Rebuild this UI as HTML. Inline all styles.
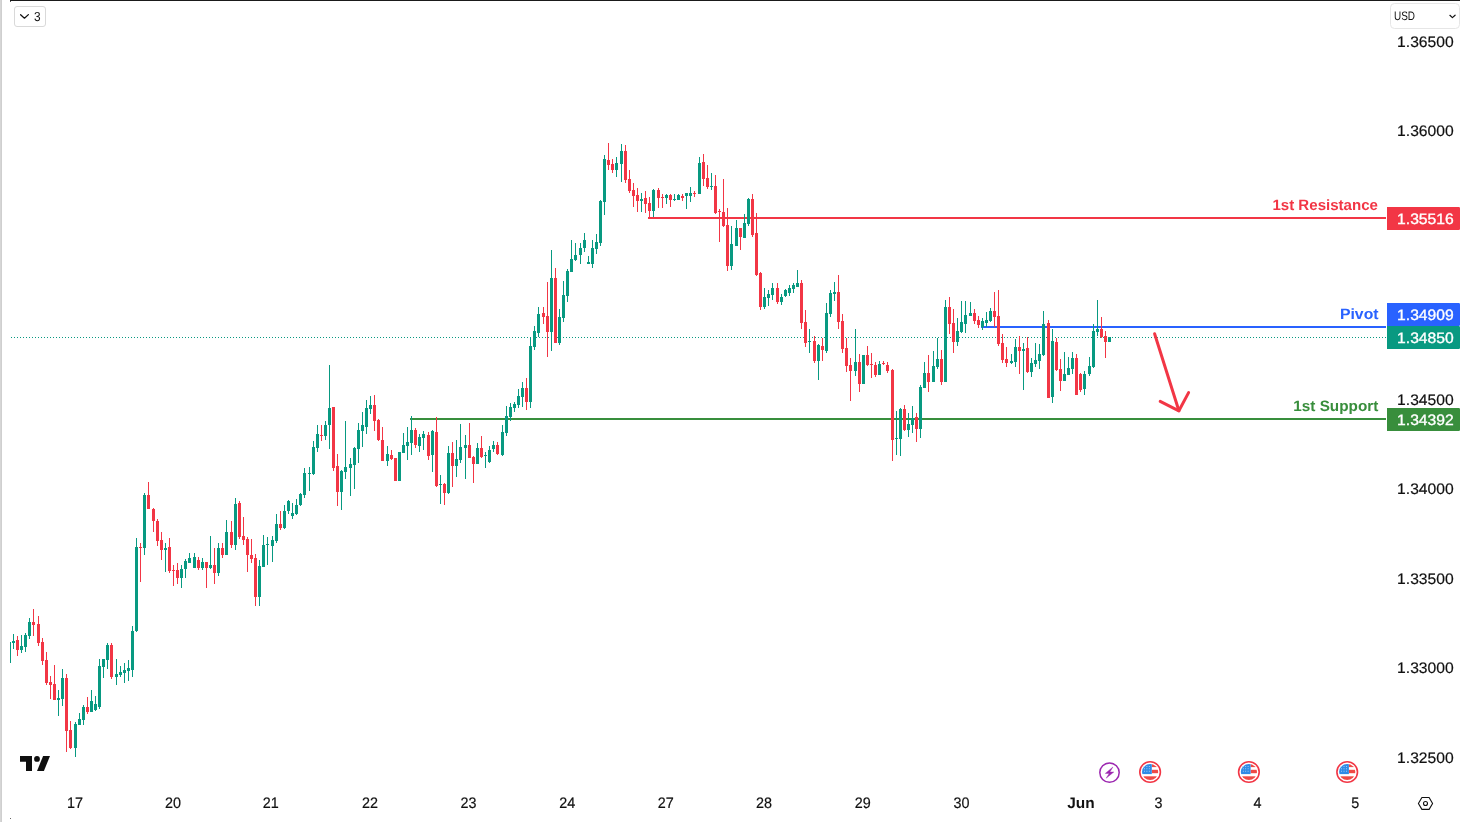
<!DOCTYPE html>
<html lang="en"><head><meta charset="utf-8"><title>Chart</title>
<style>html,body{margin:0;padding:0;background:#fff;}body{width:1460px;height:822px;overflow:hidden;}svg{display:block;}text{font-family:"Liberation Sans",sans-serif;text-rendering:geometricPrecision;}</style></head><body>
<svg width="1460" height="822" viewBox="0 0 1460 822">
<rect x="0" y="0" width="1460" height="822" fill="#ffffff"/>
<g shape-rendering="crispEdges">
<rect x="0" y="0" width="1" height="822" fill="#d6d6d6"/><rect x="1" y="0" width="1" height="822" fill="#cfcfcf"/>
<rect x="10" y="0" width="1450" height="1" fill="#1a1a1a"/>
<rect x="10" y="1" width="1" height="1" fill="#555"/>
<rect x="10" y="818" width="1" height="1" fill="#666"/>
</g>
<g shape-rendering="crispEdges" fill="#089981">
<rect x="11" y="337" width="1" height="1"/><rect x="14" y="337" width="1" height="1"/><rect x="17" y="337" width="1" height="1"/><rect x="20" y="337" width="1" height="1"/><rect x="23" y="337" width="1" height="1"/><rect x="26" y="337" width="1" height="1"/><rect x="29" y="337" width="1" height="1"/><rect x="32" y="337" width="1" height="1"/><rect x="35" y="337" width="1" height="1"/><rect x="38" y="337" width="1" height="1"/><rect x="41" y="337" width="1" height="1"/><rect x="44" y="337" width="1" height="1"/><rect x="47" y="337" width="1" height="1"/><rect x="50" y="337" width="1" height="1"/><rect x="53" y="337" width="1" height="1"/><rect x="56" y="337" width="1" height="1"/><rect x="59" y="337" width="1" height="1"/><rect x="62" y="337" width="1" height="1"/><rect x="65" y="337" width="1" height="1"/><rect x="68" y="337" width="1" height="1"/><rect x="71" y="337" width="1" height="1"/><rect x="74" y="337" width="1" height="1"/><rect x="77" y="337" width="1" height="1"/><rect x="80" y="337" width="1" height="1"/><rect x="83" y="337" width="1" height="1"/><rect x="86" y="337" width="1" height="1"/><rect x="89" y="337" width="1" height="1"/><rect x="92" y="337" width="1" height="1"/><rect x="95" y="337" width="1" height="1"/><rect x="98" y="337" width="1" height="1"/><rect x="101" y="337" width="1" height="1"/><rect x="104" y="337" width="1" height="1"/><rect x="107" y="337" width="1" height="1"/><rect x="110" y="337" width="1" height="1"/><rect x="113" y="337" width="1" height="1"/><rect x="116" y="337" width="1" height="1"/><rect x="119" y="337" width="1" height="1"/><rect x="122" y="337" width="1" height="1"/><rect x="125" y="337" width="1" height="1"/><rect x="128" y="337" width="1" height="1"/><rect x="131" y="337" width="1" height="1"/><rect x="134" y="337" width="1" height="1"/><rect x="137" y="337" width="1" height="1"/><rect x="140" y="337" width="1" height="1"/><rect x="143" y="337" width="1" height="1"/><rect x="146" y="337" width="1" height="1"/><rect x="149" y="337" width="1" height="1"/><rect x="152" y="337" width="1" height="1"/><rect x="155" y="337" width="1" height="1"/><rect x="158" y="337" width="1" height="1"/><rect x="161" y="337" width="1" height="1"/><rect x="164" y="337" width="1" height="1"/><rect x="167" y="337" width="1" height="1"/><rect x="170" y="337" width="1" height="1"/><rect x="173" y="337" width="1" height="1"/><rect x="176" y="337" width="1" height="1"/><rect x="179" y="337" width="1" height="1"/><rect x="182" y="337" width="1" height="1"/><rect x="185" y="337" width="1" height="1"/><rect x="188" y="337" width="1" height="1"/><rect x="191" y="337" width="1" height="1"/><rect x="194" y="337" width="1" height="1"/><rect x="197" y="337" width="1" height="1"/><rect x="200" y="337" width="1" height="1"/><rect x="203" y="337" width="1" height="1"/><rect x="206" y="337" width="1" height="1"/><rect x="209" y="337" width="1" height="1"/><rect x="212" y="337" width="1" height="1"/><rect x="215" y="337" width="1" height="1"/><rect x="218" y="337" width="1" height="1"/><rect x="221" y="337" width="1" height="1"/><rect x="224" y="337" width="1" height="1"/><rect x="227" y="337" width="1" height="1"/><rect x="230" y="337" width="1" height="1"/><rect x="233" y="337" width="1" height="1"/><rect x="236" y="337" width="1" height="1"/><rect x="239" y="337" width="1" height="1"/><rect x="242" y="337" width="1" height="1"/><rect x="245" y="337" width="1" height="1"/><rect x="248" y="337" width="1" height="1"/><rect x="251" y="337" width="1" height="1"/><rect x="254" y="337" width="1" height="1"/><rect x="257" y="337" width="1" height="1"/><rect x="260" y="337" width="1" height="1"/><rect x="263" y="337" width="1" height="1"/><rect x="266" y="337" width="1" height="1"/><rect x="269" y="337" width="1" height="1"/><rect x="272" y="337" width="1" height="1"/><rect x="275" y="337" width="1" height="1"/><rect x="278" y="337" width="1" height="1"/><rect x="281" y="337" width="1" height="1"/><rect x="284" y="337" width="1" height="1"/><rect x="287" y="337" width="1" height="1"/><rect x="290" y="337" width="1" height="1"/><rect x="293" y="337" width="1" height="1"/><rect x="296" y="337" width="1" height="1"/><rect x="299" y="337" width="1" height="1"/><rect x="302" y="337" width="1" height="1"/><rect x="305" y="337" width="1" height="1"/><rect x="308" y="337" width="1" height="1"/><rect x="311" y="337" width="1" height="1"/><rect x="314" y="337" width="1" height="1"/><rect x="317" y="337" width="1" height="1"/><rect x="320" y="337" width="1" height="1"/><rect x="323" y="337" width="1" height="1"/><rect x="326" y="337" width="1" height="1"/><rect x="329" y="337" width="1" height="1"/><rect x="332" y="337" width="1" height="1"/><rect x="335" y="337" width="1" height="1"/><rect x="338" y="337" width="1" height="1"/><rect x="341" y="337" width="1" height="1"/><rect x="344" y="337" width="1" height="1"/><rect x="347" y="337" width="1" height="1"/><rect x="350" y="337" width="1" height="1"/><rect x="353" y="337" width="1" height="1"/><rect x="356" y="337" width="1" height="1"/><rect x="359" y="337" width="1" height="1"/><rect x="362" y="337" width="1" height="1"/><rect x="365" y="337" width="1" height="1"/><rect x="368" y="337" width="1" height="1"/><rect x="371" y="337" width="1" height="1"/><rect x="374" y="337" width="1" height="1"/><rect x="377" y="337" width="1" height="1"/><rect x="380" y="337" width="1" height="1"/><rect x="383" y="337" width="1" height="1"/><rect x="386" y="337" width="1" height="1"/><rect x="389" y="337" width="1" height="1"/><rect x="392" y="337" width="1" height="1"/><rect x="395" y="337" width="1" height="1"/><rect x="398" y="337" width="1" height="1"/><rect x="401" y="337" width="1" height="1"/><rect x="404" y="337" width="1" height="1"/><rect x="407" y="337" width="1" height="1"/><rect x="410" y="337" width="1" height="1"/><rect x="413" y="337" width="1" height="1"/><rect x="416" y="337" width="1" height="1"/><rect x="419" y="337" width="1" height="1"/><rect x="422" y="337" width="1" height="1"/><rect x="425" y="337" width="1" height="1"/><rect x="428" y="337" width="1" height="1"/><rect x="431" y="337" width="1" height="1"/><rect x="434" y="337" width="1" height="1"/><rect x="437" y="337" width="1" height="1"/><rect x="440" y="337" width="1" height="1"/><rect x="443" y="337" width="1" height="1"/><rect x="446" y="337" width="1" height="1"/><rect x="449" y="337" width="1" height="1"/><rect x="452" y="337" width="1" height="1"/><rect x="455" y="337" width="1" height="1"/><rect x="458" y="337" width="1" height="1"/><rect x="461" y="337" width="1" height="1"/><rect x="464" y="337" width="1" height="1"/><rect x="467" y="337" width="1" height="1"/><rect x="470" y="337" width="1" height="1"/><rect x="473" y="337" width="1" height="1"/><rect x="476" y="337" width="1" height="1"/><rect x="479" y="337" width="1" height="1"/><rect x="482" y="337" width="1" height="1"/><rect x="485" y="337" width="1" height="1"/><rect x="488" y="337" width="1" height="1"/><rect x="491" y="337" width="1" height="1"/><rect x="494" y="337" width="1" height="1"/><rect x="497" y="337" width="1" height="1"/><rect x="500" y="337" width="1" height="1"/><rect x="503" y="337" width="1" height="1"/><rect x="506" y="337" width="1" height="1"/><rect x="509" y="337" width="1" height="1"/><rect x="512" y="337" width="1" height="1"/><rect x="515" y="337" width="1" height="1"/><rect x="518" y="337" width="1" height="1"/><rect x="521" y="337" width="1" height="1"/><rect x="524" y="337" width="1" height="1"/><rect x="527" y="337" width="1" height="1"/><rect x="530" y="337" width="1" height="1"/><rect x="533" y="337" width="1" height="1"/><rect x="536" y="337" width="1" height="1"/><rect x="539" y="337" width="1" height="1"/><rect x="542" y="337" width="1" height="1"/><rect x="545" y="337" width="1" height="1"/><rect x="548" y="337" width="1" height="1"/><rect x="551" y="337" width="1" height="1"/><rect x="554" y="337" width="1" height="1"/><rect x="557" y="337" width="1" height="1"/><rect x="560" y="337" width="1" height="1"/><rect x="563" y="337" width="1" height="1"/><rect x="566" y="337" width="1" height="1"/><rect x="569" y="337" width="1" height="1"/><rect x="572" y="337" width="1" height="1"/><rect x="575" y="337" width="1" height="1"/><rect x="578" y="337" width="1" height="1"/><rect x="581" y="337" width="1" height="1"/><rect x="584" y="337" width="1" height="1"/><rect x="587" y="337" width="1" height="1"/><rect x="590" y="337" width="1" height="1"/><rect x="593" y="337" width="1" height="1"/><rect x="596" y="337" width="1" height="1"/><rect x="599" y="337" width="1" height="1"/><rect x="602" y="337" width="1" height="1"/><rect x="605" y="337" width="1" height="1"/><rect x="608" y="337" width="1" height="1"/><rect x="611" y="337" width="1" height="1"/><rect x="614" y="337" width="1" height="1"/><rect x="617" y="337" width="1" height="1"/><rect x="620" y="337" width="1" height="1"/><rect x="623" y="337" width="1" height="1"/><rect x="626" y="337" width="1" height="1"/><rect x="629" y="337" width="1" height="1"/><rect x="632" y="337" width="1" height="1"/><rect x="635" y="337" width="1" height="1"/><rect x="638" y="337" width="1" height="1"/><rect x="641" y="337" width="1" height="1"/><rect x="644" y="337" width="1" height="1"/><rect x="647" y="337" width="1" height="1"/><rect x="650" y="337" width="1" height="1"/><rect x="653" y="337" width="1" height="1"/><rect x="656" y="337" width="1" height="1"/><rect x="659" y="337" width="1" height="1"/><rect x="662" y="337" width="1" height="1"/><rect x="665" y="337" width="1" height="1"/><rect x="668" y="337" width="1" height="1"/><rect x="671" y="337" width="1" height="1"/><rect x="674" y="337" width="1" height="1"/><rect x="677" y="337" width="1" height="1"/><rect x="680" y="337" width="1" height="1"/><rect x="683" y="337" width="1" height="1"/><rect x="686" y="337" width="1" height="1"/><rect x="689" y="337" width="1" height="1"/><rect x="692" y="337" width="1" height="1"/><rect x="695" y="337" width="1" height="1"/><rect x="698" y="337" width="1" height="1"/><rect x="701" y="337" width="1" height="1"/><rect x="704" y="337" width="1" height="1"/><rect x="707" y="337" width="1" height="1"/><rect x="710" y="337" width="1" height="1"/><rect x="713" y="337" width="1" height="1"/><rect x="716" y="337" width="1" height="1"/><rect x="719" y="337" width="1" height="1"/><rect x="722" y="337" width="1" height="1"/><rect x="725" y="337" width="1" height="1"/><rect x="728" y="337" width="1" height="1"/><rect x="731" y="337" width="1" height="1"/><rect x="734" y="337" width="1" height="1"/><rect x="737" y="337" width="1" height="1"/><rect x="740" y="337" width="1" height="1"/><rect x="743" y="337" width="1" height="1"/><rect x="746" y="337" width="1" height="1"/><rect x="749" y="337" width="1" height="1"/><rect x="752" y="337" width="1" height="1"/><rect x="755" y="337" width="1" height="1"/><rect x="758" y="337" width="1" height="1"/><rect x="761" y="337" width="1" height="1"/><rect x="764" y="337" width="1" height="1"/><rect x="767" y="337" width="1" height="1"/><rect x="770" y="337" width="1" height="1"/><rect x="773" y="337" width="1" height="1"/><rect x="776" y="337" width="1" height="1"/><rect x="779" y="337" width="1" height="1"/><rect x="782" y="337" width="1" height="1"/><rect x="785" y="337" width="1" height="1"/><rect x="788" y="337" width="1" height="1"/><rect x="791" y="337" width="1" height="1"/><rect x="794" y="337" width="1" height="1"/><rect x="797" y="337" width="1" height="1"/><rect x="800" y="337" width="1" height="1"/><rect x="803" y="337" width="1" height="1"/><rect x="806" y="337" width="1" height="1"/><rect x="809" y="337" width="1" height="1"/><rect x="812" y="337" width="1" height="1"/><rect x="815" y="337" width="1" height="1"/><rect x="818" y="337" width="1" height="1"/><rect x="821" y="337" width="1" height="1"/><rect x="824" y="337" width="1" height="1"/><rect x="827" y="337" width="1" height="1"/><rect x="830" y="337" width="1" height="1"/><rect x="833" y="337" width="1" height="1"/><rect x="836" y="337" width="1" height="1"/><rect x="839" y="337" width="1" height="1"/><rect x="842" y="337" width="1" height="1"/><rect x="845" y="337" width="1" height="1"/><rect x="848" y="337" width="1" height="1"/><rect x="851" y="337" width="1" height="1"/><rect x="854" y="337" width="1" height="1"/><rect x="857" y="337" width="1" height="1"/><rect x="860" y="337" width="1" height="1"/><rect x="863" y="337" width="1" height="1"/><rect x="866" y="337" width="1" height="1"/><rect x="869" y="337" width="1" height="1"/><rect x="872" y="337" width="1" height="1"/><rect x="875" y="337" width="1" height="1"/><rect x="878" y="337" width="1" height="1"/><rect x="881" y="337" width="1" height="1"/><rect x="884" y="337" width="1" height="1"/><rect x="887" y="337" width="1" height="1"/><rect x="890" y="337" width="1" height="1"/><rect x="893" y="337" width="1" height="1"/><rect x="896" y="337" width="1" height="1"/><rect x="899" y="337" width="1" height="1"/><rect x="902" y="337" width="1" height="1"/><rect x="905" y="337" width="1" height="1"/><rect x="908" y="337" width="1" height="1"/><rect x="911" y="337" width="1" height="1"/><rect x="914" y="337" width="1" height="1"/><rect x="917" y="337" width="1" height="1"/><rect x="920" y="337" width="1" height="1"/><rect x="923" y="337" width="1" height="1"/><rect x="926" y="337" width="1" height="1"/><rect x="929" y="337" width="1" height="1"/><rect x="932" y="337" width="1" height="1"/><rect x="935" y="337" width="1" height="1"/><rect x="938" y="337" width="1" height="1"/><rect x="941" y="337" width="1" height="1"/><rect x="944" y="337" width="1" height="1"/><rect x="947" y="337" width="1" height="1"/><rect x="950" y="337" width="1" height="1"/><rect x="953" y="337" width="1" height="1"/><rect x="956" y="337" width="1" height="1"/><rect x="959" y="337" width="1" height="1"/><rect x="962" y="337" width="1" height="1"/><rect x="965" y="337" width="1" height="1"/><rect x="968" y="337" width="1" height="1"/><rect x="971" y="337" width="1" height="1"/><rect x="974" y="337" width="1" height="1"/><rect x="977" y="337" width="1" height="1"/><rect x="980" y="337" width="1" height="1"/><rect x="983" y="337" width="1" height="1"/><rect x="986" y="337" width="1" height="1"/><rect x="989" y="337" width="1" height="1"/><rect x="992" y="337" width="1" height="1"/><rect x="995" y="337" width="1" height="1"/><rect x="998" y="337" width="1" height="1"/><rect x="1001" y="337" width="1" height="1"/><rect x="1004" y="337" width="1" height="1"/><rect x="1007" y="337" width="1" height="1"/><rect x="1010" y="337" width="1" height="1"/><rect x="1013" y="337" width="1" height="1"/><rect x="1016" y="337" width="1" height="1"/><rect x="1019" y="337" width="1" height="1"/><rect x="1022" y="337" width="1" height="1"/><rect x="1025" y="337" width="1" height="1"/><rect x="1028" y="337" width="1" height="1"/><rect x="1031" y="337" width="1" height="1"/><rect x="1034" y="337" width="1" height="1"/><rect x="1037" y="337" width="1" height="1"/><rect x="1040" y="337" width="1" height="1"/><rect x="1043" y="337" width="1" height="1"/><rect x="1046" y="337" width="1" height="1"/><rect x="1049" y="337" width="1" height="1"/><rect x="1052" y="337" width="1" height="1"/><rect x="1055" y="337" width="1" height="1"/><rect x="1058" y="337" width="1" height="1"/><rect x="1061" y="337" width="1" height="1"/><rect x="1064" y="337" width="1" height="1"/><rect x="1067" y="337" width="1" height="1"/><rect x="1070" y="337" width="1" height="1"/><rect x="1073" y="337" width="1" height="1"/><rect x="1076" y="337" width="1" height="1"/><rect x="1079" y="337" width="1" height="1"/><rect x="1082" y="337" width="1" height="1"/><rect x="1085" y="337" width="1" height="1"/><rect x="1088" y="337" width="1" height="1"/><rect x="1091" y="337" width="1" height="1"/><rect x="1094" y="337" width="1" height="1"/><rect x="1097" y="337" width="1" height="1"/><rect x="1100" y="337" width="1" height="1"/><rect x="1103" y="337" width="1" height="1"/><rect x="1106" y="337" width="1" height="1"/><rect x="1109" y="337" width="1" height="1"/><rect x="1112" y="337" width="1" height="1"/><rect x="1115" y="337" width="1" height="1"/><rect x="1118" y="337" width="1" height="1"/><rect x="1121" y="337" width="1" height="1"/><rect x="1124" y="337" width="1" height="1"/><rect x="1127" y="337" width="1" height="1"/><rect x="1130" y="337" width="1" height="1"/><rect x="1133" y="337" width="1" height="1"/><rect x="1136" y="337" width="1" height="1"/><rect x="1139" y="337" width="1" height="1"/><rect x="1142" y="337" width="1" height="1"/><rect x="1145" y="337" width="1" height="1"/><rect x="1148" y="337" width="1" height="1"/><rect x="1151" y="337" width="1" height="1"/><rect x="1154" y="337" width="1" height="1"/><rect x="1157" y="337" width="1" height="1"/><rect x="1160" y="337" width="1" height="1"/><rect x="1163" y="337" width="1" height="1"/><rect x="1166" y="337" width="1" height="1"/><rect x="1169" y="337" width="1" height="1"/><rect x="1172" y="337" width="1" height="1"/><rect x="1175" y="337" width="1" height="1"/><rect x="1178" y="337" width="1" height="1"/><rect x="1181" y="337" width="1" height="1"/><rect x="1184" y="337" width="1" height="1"/><rect x="1187" y="337" width="1" height="1"/><rect x="1190" y="337" width="1" height="1"/><rect x="1193" y="337" width="1" height="1"/><rect x="1196" y="337" width="1" height="1"/><rect x="1199" y="337" width="1" height="1"/><rect x="1202" y="337" width="1" height="1"/><rect x="1205" y="337" width="1" height="1"/><rect x="1208" y="337" width="1" height="1"/><rect x="1211" y="337" width="1" height="1"/><rect x="1214" y="337" width="1" height="1"/><rect x="1217" y="337" width="1" height="1"/><rect x="1220" y="337" width="1" height="1"/><rect x="1223" y="337" width="1" height="1"/><rect x="1226" y="337" width="1" height="1"/><rect x="1229" y="337" width="1" height="1"/><rect x="1232" y="337" width="1" height="1"/><rect x="1235" y="337" width="1" height="1"/><rect x="1238" y="337" width="1" height="1"/><rect x="1241" y="337" width="1" height="1"/><rect x="1244" y="337" width="1" height="1"/><rect x="1247" y="337" width="1" height="1"/><rect x="1250" y="337" width="1" height="1"/><rect x="1253" y="337" width="1" height="1"/><rect x="1256" y="337" width="1" height="1"/><rect x="1259" y="337" width="1" height="1"/><rect x="1262" y="337" width="1" height="1"/><rect x="1265" y="337" width="1" height="1"/><rect x="1268" y="337" width="1" height="1"/><rect x="1271" y="337" width="1" height="1"/><rect x="1274" y="337" width="1" height="1"/><rect x="1277" y="337" width="1" height="1"/><rect x="1280" y="337" width="1" height="1"/><rect x="1283" y="337" width="1" height="1"/><rect x="1286" y="337" width="1" height="1"/><rect x="1289" y="337" width="1" height="1"/><rect x="1292" y="337" width="1" height="1"/><rect x="1295" y="337" width="1" height="1"/><rect x="1298" y="337" width="1" height="1"/><rect x="1301" y="337" width="1" height="1"/><rect x="1304" y="337" width="1" height="1"/><rect x="1307" y="337" width="1" height="1"/><rect x="1310" y="337" width="1" height="1"/><rect x="1313" y="337" width="1" height="1"/><rect x="1316" y="337" width="1" height="1"/><rect x="1319" y="337" width="1" height="1"/><rect x="1322" y="337" width="1" height="1"/><rect x="1325" y="337" width="1" height="1"/><rect x="1328" y="337" width="1" height="1"/><rect x="1331" y="337" width="1" height="1"/><rect x="1334" y="337" width="1" height="1"/><rect x="1337" y="337" width="1" height="1"/><rect x="1340" y="337" width="1" height="1"/><rect x="1343" y="337" width="1" height="1"/><rect x="1346" y="337" width="1" height="1"/><rect x="1349" y="337" width="1" height="1"/><rect x="1352" y="337" width="1" height="1"/><rect x="1355" y="337" width="1" height="1"/><rect x="1358" y="337" width="1" height="1"/><rect x="1361" y="337" width="1" height="1"/><rect x="1364" y="337" width="1" height="1"/><rect x="1367" y="337" width="1" height="1"/><rect x="1370" y="337" width="1" height="1"/><rect x="1373" y="337" width="1" height="1"/><rect x="1376" y="337" width="1" height="1"/><rect x="1379" y="337" width="1" height="1"/><rect x="1382" y="337" width="1" height="1"/><rect x="1385" y="337" width="1" height="1"/>
</g>
<g shape-rendering="crispEdges">
<rect x="648" y="217" width="738" height="2" fill="#f23645"/>
<rect x="981" y="326" width="405" height="2" fill="#2962ff"/>
<rect x="410" y="418" width="976" height="2" fill="#388e3c"/>
</g>
<g shape-rendering="crispEdges" fill="#089981"><rect x="10" y="642" width="1" height="21"/><rect x="13" y="634" width="1" height="15"/><rect x="12" y="641" width="3" height="2"/><rect x="21" y="635" width="1" height="18"/><rect x="20" y="646" width="3" height="4"/><rect x="25" y="633" width="1" height="19"/><rect x="24" y="635" width="3" height="12"/><rect x="29" y="618" width="1" height="21"/><rect x="28" y="622" width="3" height="14"/><rect x="58" y="690" width="1" height="26"/><rect x="57" y="698" width="3" height="2"/><rect x="62" y="669" width="1" height="37"/><rect x="61" y="678" width="3" height="21"/><rect x="75" y="722" width="1" height="35"/><rect x="74" y="724" width="3" height="24"/><rect x="79" y="713" width="1" height="12"/><rect x="78" y="719" width="3" height="6"/><rect x="83" y="705" width="1" height="20"/><rect x="82" y="707" width="3" height="13"/><rect x="91" y="690" width="1" height="22"/><rect x="90" y="701" width="3" height="11"/><rect x="95" y="696" width="1" height="15"/><rect x="94" y="704" width="3" height="6"/><rect x="99" y="659" width="1" height="50"/><rect x="98" y="666" width="3" height="41"/><rect x="103" y="659" width="1" height="19"/><rect x="102" y="659" width="3" height="8"/><rect x="107" y="643" width="1" height="26"/><rect x="106" y="645" width="3" height="15"/><rect x="116" y="659" width="1" height="26"/><rect x="115" y="674" width="3" height="3"/><rect x="120" y="666" width="1" height="11"/><rect x="119" y="672" width="3" height="3"/><rect x="124" y="663" width="1" height="20"/><rect x="123" y="670" width="3" height="3"/><rect x="128" y="660" width="1" height="21"/><rect x="127" y="668" width="3" height="3"/><rect x="132" y="626" width="1" height="51"/><rect x="131" y="631" width="3" height="39"/><rect x="136" y="538" width="1" height="94"/><rect x="135" y="547" width="3" height="84"/><rect x="144" y="493" width="1" height="62"/><rect x="143" y="495" width="3" height="53"/><rect x="165" y="543" width="1" height="29"/><rect x="164" y="548" width="3" height="2"/><rect x="181" y="565" width="1" height="23"/><rect x="180" y="569" width="3" height="9"/><rect x="185" y="559" width="1" height="19"/><rect x="184" y="561" width="3" height="8"/><rect x="189" y="553" width="1" height="10"/><rect x="188" y="558" width="3" height="5"/><rect x="194" y="553" width="1" height="15"/><rect x="193" y="557" width="3" height="11"/><rect x="202" y="558" width="1" height="12"/><rect x="201" y="562" width="3" height="6"/><rect x="210" y="536" width="1" height="33"/><rect x="209" y="565" width="3" height="3"/><rect x="218" y="543" width="1" height="33"/><rect x="217" y="548" width="3" height="25"/><rect x="226" y="520" width="1" height="35"/><rect x="225" y="532" width="3" height="23"/><rect x="235" y="498" width="1" height="52"/><rect x="234" y="504" width="3" height="41"/><rect x="259" y="560" width="1" height="46"/><rect x="258" y="566" width="3" height="31"/><rect x="263" y="535" width="1" height="32"/><rect x="262" y="545" width="3" height="22"/><rect x="267" y="537" width="1" height="28"/><rect x="266" y="544" width="3" height="1"/><rect x="272" y="536" width="1" height="26"/><rect x="271" y="540" width="3" height="6"/><rect x="276" y="514" width="1" height="29"/><rect x="275" y="524" width="3" height="17"/><rect x="284" y="505" width="1" height="24"/><rect x="283" y="511" width="3" height="17"/><rect x="288" y="500" width="1" height="14"/><rect x="287" y="501" width="3" height="10"/><rect x="292" y="503" width="1" height="16"/><rect x="291" y="513" width="3" height="3"/><rect x="296" y="499" width="1" height="16"/><rect x="295" y="505" width="3" height="9"/><rect x="300" y="493" width="1" height="13"/><rect x="299" y="494" width="3" height="11"/><rect x="304" y="468" width="1" height="30"/><rect x="303" y="473" width="3" height="22"/><rect x="309" y="467" width="1" height="24"/><rect x="308" y="473" width="3" height="1"/><rect x="313" y="441" width="1" height="34"/><rect x="312" y="447" width="3" height="27"/><rect x="317" y="425" width="1" height="27"/><rect x="316" y="434" width="3" height="14"/><rect x="325" y="421" width="1" height="19"/><rect x="324" y="425" width="3" height="11"/><rect x="329" y="365" width="1" height="84"/><rect x="328" y="408" width="3" height="17"/><rect x="341" y="470" width="1" height="40"/><rect x="340" y="471" width="3" height="21"/><rect x="345" y="421" width="1" height="58"/><rect x="344" y="467" width="3" height="5"/><rect x="350" y="458" width="1" height="38"/><rect x="349" y="464" width="3" height="4"/><rect x="354" y="447" width="1" height="42"/><rect x="353" y="448" width="3" height="17"/><rect x="358" y="423" width="1" height="40"/><rect x="357" y="430" width="3" height="19"/><rect x="362" y="412" width="1" height="35"/><rect x="361" y="425" width="3" height="6"/><rect x="366" y="400" width="1" height="34"/><rect x="365" y="408" width="3" height="19"/><rect x="370" y="396" width="1" height="18"/><rect x="369" y="405" width="3" height="4"/><rect x="387" y="446" width="1" height="20"/><rect x="386" y="454" width="3" height="7"/><rect x="398" y="452" width="3" height="29"/><rect x="403" y="433" width="1" height="20"/><rect x="402" y="445" width="3" height="8"/><rect x="407" y="427" width="1" height="33"/><rect x="406" y="442" width="3" height="4"/><rect x="411" y="416" width="1" height="39"/><rect x="410" y="430" width="3" height="13"/><rect x="419" y="434" width="1" height="18"/><rect x="418" y="437" width="3" height="9"/><rect x="423" y="431" width="1" height="19"/><rect x="422" y="434" width="3" height="4"/><rect x="432" y="430" width="1" height="42"/><rect x="431" y="431" width="3" height="24"/><rect x="440" y="475" width="1" height="29"/><rect x="439" y="484" width="3" height="1"/><rect x="448" y="446" width="1" height="48"/><rect x="447" y="453" width="3" height="40"/><rect x="456" y="440" width="1" height="37"/><rect x="455" y="459" width="3" height="7"/><rect x="460" y="424" width="1" height="39"/><rect x="459" y="447" width="3" height="13"/><rect x="465" y="435" width="1" height="44"/><rect x="464" y="445" width="3" height="3"/><rect x="477" y="443" width="1" height="21"/><rect x="476" y="448" width="3" height="16"/><rect x="485" y="452" width="1" height="16"/><rect x="484" y="455" width="3" height="1"/><rect x="489" y="446" width="1" height="17"/><rect x="488" y="450" width="3" height="12"/><rect x="493" y="441" width="1" height="11"/><rect x="492" y="445" width="3" height="4"/><rect x="502" y="425" width="1" height="31"/><rect x="501" y="432" width="3" height="23"/><rect x="506" y="406" width="1" height="30"/><rect x="505" y="416" width="3" height="17"/><rect x="510" y="403" width="1" height="18"/><rect x="509" y="407" width="3" height="10"/><rect x="514" y="402" width="1" height="10"/><rect x="513" y="404" width="3" height="4"/><rect x="518" y="389" width="1" height="19"/><rect x="517" y="396" width="3" height="9"/><rect x="522" y="382" width="1" height="25"/><rect x="521" y="388" width="3" height="9"/><rect x="530" y="337" width="1" height="71"/><rect x="529" y="346" width="3" height="56"/><rect x="534" y="326" width="1" height="24"/><rect x="533" y="331" width="3" height="16"/><rect x="538" y="307" width="1" height="30"/><rect x="537" y="314" width="3" height="19"/><rect x="551" y="250" width="1" height="101"/><rect x="550" y="278" width="3" height="54"/><rect x="559" y="309" width="1" height="36"/><rect x="558" y="317" width="3" height="26"/><rect x="563" y="281" width="1" height="41"/><rect x="562" y="295" width="3" height="23"/><rect x="567" y="269" width="1" height="33"/><rect x="566" y="271" width="3" height="25"/><rect x="571" y="240" width="1" height="32"/><rect x="570" y="259" width="3" height="13"/><rect x="575" y="243" width="1" height="18"/><rect x="574" y="255" width="3" height="5"/><rect x="580" y="243" width="1" height="21"/><rect x="579" y="248" width="3" height="7"/><rect x="584" y="233" width="1" height="19"/><rect x="583" y="240" width="3" height="8"/><rect x="588" y="256" width="1" height="8"/><rect x="587" y="262" width="3" height="2"/><rect x="592" y="240" width="1" height="28"/><rect x="591" y="248" width="3" height="16"/><rect x="596" y="234" width="1" height="20"/><rect x="595" y="242" width="3" height="7"/><rect x="600" y="200" width="1" height="46"/><rect x="599" y="201" width="3" height="42"/><rect x="604" y="155" width="1" height="60"/><rect x="603" y="159" width="3" height="43"/><rect x="616" y="157" width="1" height="20"/><rect x="615" y="163" width="3" height="7"/><rect x="621" y="144" width="1" height="38"/><rect x="620" y="151" width="3" height="13"/><rect x="641" y="193" width="1" height="19"/><rect x="640" y="199" width="3" height="2"/><rect x="653" y="189" width="1" height="28"/><rect x="652" y="190" width="3" height="21"/><rect x="666" y="194" width="1" height="10"/><rect x="665" y="195" width="3" height="3"/><rect x="674" y="194" width="1" height="7"/><rect x="673" y="199" width="3" height="1"/><rect x="678" y="194" width="1" height="6"/><rect x="677" y="195" width="3" height="5"/><rect x="686" y="193" width="1" height="16"/><rect x="685" y="193" width="3" height="3"/><rect x="690" y="187" width="1" height="15"/><rect x="689" y="193" width="3" height="3"/><rect x="699" y="157" width="1" height="37"/><rect x="698" y="163" width="3" height="31"/><rect x="711" y="173" width="1" height="17"/><rect x="710" y="186" width="3" height="1"/><rect x="731" y="226" width="1" height="44"/><rect x="730" y="244" width="3" height="22"/><rect x="736" y="220" width="1" height="26"/><rect x="735" y="228" width="3" height="18"/><rect x="744" y="214" width="1" height="24"/><rect x="743" y="223" width="3" height="15"/><rect x="748" y="198" width="1" height="28"/><rect x="747" y="199" width="3" height="25"/><rect x="764" y="288" width="1" height="21"/><rect x="763" y="297" width="3" height="10"/><rect x="768" y="290" width="1" height="16"/><rect x="767" y="294" width="3" height="4"/><rect x="772" y="283" width="1" height="17"/><rect x="771" y="288" width="3" height="7"/><rect x="781" y="294" width="1" height="11"/><rect x="780" y="297" width="3" height="5"/><rect x="785" y="289" width="1" height="8"/><rect x="784" y="290" width="3" height="6"/><rect x="789" y="285" width="1" height="11"/><rect x="788" y="288" width="3" height="5"/><rect x="793" y="283" width="1" height="10"/><rect x="792" y="285" width="3" height="4"/><rect x="797" y="270" width="1" height="17"/><rect x="796" y="283" width="3" height="4"/><rect x="809" y="329" width="1" height="24"/><rect x="808" y="341" width="3" height="1"/><rect x="818" y="344" width="1" height="36"/><rect x="817" y="345" width="3" height="16"/><rect x="826" y="303" width="1" height="50"/><rect x="825" y="313" width="3" height="38"/><rect x="830" y="290" width="1" height="27"/><rect x="829" y="293" width="3" height="21"/><rect x="834" y="282" width="1" height="19"/><rect x="833" y="292" width="3" height="2"/><rect x="855" y="329" width="1" height="47"/><rect x="854" y="362" width="3" height="9"/><rect x="862" y="355" width="3" height="29"/><rect x="879" y="361" width="1" height="14"/><rect x="878" y="364" width="3" height="11"/><rect x="896" y="411" width="1" height="44"/><rect x="895" y="438" width="3" height="1"/><rect x="900" y="408" width="1" height="48"/><rect x="899" y="409" width="3" height="30"/><rect x="908" y="413" width="1" height="24"/><rect x="907" y="424" width="3" height="6"/><rect x="912" y="406" width="1" height="27"/><rect x="911" y="418" width="3" height="7"/><rect x="920" y="385" width="1" height="53"/><rect x="919" y="387" width="3" height="42"/><rect x="924" y="362" width="1" height="26"/><rect x="923" y="373" width="3" height="15"/><rect x="933" y="351" width="1" height="31"/><rect x="932" y="366" width="3" height="16"/><rect x="937" y="338" width="1" height="31"/><rect x="936" y="359" width="3" height="8"/><rect x="945" y="300" width="1" height="82"/><rect x="944" y="307" width="3" height="75"/><rect x="957" y="318" width="1" height="28"/><rect x="956" y="331" width="3" height="11"/><rect x="961" y="301" width="1" height="32"/><rect x="960" y="322" width="3" height="10"/><rect x="965" y="301" width="1" height="32"/><rect x="964" y="315" width="3" height="9"/><rect x="970" y="302" width="1" height="14"/><rect x="969" y="313" width="3" height="3"/><rect x="982" y="318" width="1" height="12"/><rect x="981" y="321" width="3" height="6"/><rect x="986" y="312" width="1" height="15"/><rect x="985" y="320" width="3" height="3"/><rect x="990" y="308" width="1" height="14"/><rect x="989" y="311" width="3" height="10"/><rect x="1011" y="354" width="1" height="10"/><rect x="1010" y="361" width="3" height="2"/><rect x="1015" y="339" width="1" height="28"/><rect x="1014" y="347" width="3" height="15"/><rect x="1023" y="343" width="1" height="47"/><rect x="1022" y="349" width="3" height="2"/><rect x="1031" y="358" width="1" height="19"/><rect x="1030" y="363" width="3" height="9"/><rect x="1035" y="343" width="1" height="24"/><rect x="1034" y="360" width="3" height="4"/><rect x="1039" y="344" width="1" height="25"/><rect x="1038" y="354" width="3" height="7"/><rect x="1043" y="311" width="1" height="45"/><rect x="1042" y="324" width="3" height="31"/><rect x="1052" y="329" width="1" height="74"/><rect x="1051" y="341" width="3" height="56"/><rect x="1064" y="352" width="1" height="29"/><rect x="1063" y="374" width="3" height="7"/><rect x="1068" y="357" width="1" height="18"/><rect x="1067" y="368" width="3" height="7"/><rect x="1072" y="352" width="1" height="22"/><rect x="1071" y="358" width="3" height="11"/><rect x="1084" y="371" width="1" height="24"/><rect x="1083" y="374" width="3" height="15"/><rect x="1089" y="357" width="1" height="19"/><rect x="1088" y="366" width="3" height="8"/><rect x="1093" y="324" width="1" height="44"/><rect x="1092" y="331" width="3" height="36"/><rect x="1097" y="300" width="1" height="36"/><rect x="1096" y="329" width="3" height="3"/><rect x="1108" y="337" width="3" height="5"/></g>
<g shape-rendering="crispEdges" fill="#f23645"><rect x="17" y="636" width="1" height="20"/><rect x="16" y="640" width="3" height="10"/><rect x="33" y="609" width="1" height="27"/><rect x="32" y="622" width="3" height="3"/><rect x="38" y="616" width="1" height="30"/><rect x="37" y="624" width="3" height="19"/><rect x="42" y="638" width="1" height="27"/><rect x="41" y="642" width="3" height="19"/><rect x="46" y="652" width="1" height="33"/><rect x="45" y="660" width="3" height="23"/><rect x="50" y="676" width="1" height="23"/><rect x="49" y="682" width="3" height="3"/><rect x="54" y="665" width="1" height="35"/><rect x="53" y="684" width="3" height="16"/><rect x="66" y="674" width="1" height="78"/><rect x="65" y="678" width="3" height="53"/><rect x="70" y="721" width="1" height="28"/><rect x="69" y="730" width="3" height="18"/><rect x="87" y="697" width="1" height="17"/><rect x="86" y="707" width="3" height="5"/><rect x="111" y="643" width="1" height="36"/><rect x="110" y="645" width="3" height="32"/><rect x="140" y="543" width="1" height="39"/><rect x="139" y="547" width="3" height="1"/><rect x="148" y="482" width="1" height="27"/><rect x="147" y="495" width="3" height="14"/><rect x="153" y="508" width="1" height="24"/><rect x="152" y="509" width="3" height="12"/><rect x="157" y="519" width="1" height="27"/><rect x="156" y="521" width="3" height="20"/><rect x="161" y="532" width="1" height="28"/><rect x="160" y="540" width="3" height="10"/><rect x="169" y="538" width="1" height="35"/><rect x="168" y="547" width="3" height="24"/><rect x="173" y="565" width="1" height="21"/><rect x="172" y="570" width="3" height="1"/><rect x="177" y="563" width="1" height="21"/><rect x="176" y="570" width="3" height="8"/><rect x="198" y="557" width="1" height="13"/><rect x="197" y="560" width="3" height="8"/><rect x="206" y="562" width="1" height="26"/><rect x="205" y="562" width="3" height="6"/><rect x="214" y="548" width="1" height="36"/><rect x="213" y="565" width="3" height="8"/><rect x="222" y="543" width="1" height="15"/><rect x="221" y="548" width="3" height="7"/><rect x="231" y="521" width="1" height="27"/><rect x="230" y="532" width="3" height="13"/><rect x="239" y="501" width="1" height="38"/><rect x="238" y="503" width="3" height="34"/><rect x="243" y="517" width="1" height="28"/><rect x="242" y="536" width="3" height="4"/><rect x="247" y="537" width="1" height="35"/><rect x="246" y="539" width="3" height="16"/><rect x="251" y="539" width="1" height="24"/><rect x="250" y="555" width="3" height="4"/><rect x="255" y="554" width="1" height="52"/><rect x="254" y="558" width="3" height="39"/><rect x="280" y="511" width="1" height="19"/><rect x="279" y="524" width="3" height="4"/><rect x="321" y="425" width="1" height="16"/><rect x="320" y="435" width="3" height="1"/><rect x="333" y="407" width="1" height="64"/><rect x="332" y="407" width="3" height="61"/><rect x="337" y="454" width="1" height="52"/><rect x="336" y="466" width="3" height="26"/><rect x="374" y="395" width="1" height="36"/><rect x="373" y="405" width="3" height="16"/><rect x="378" y="419" width="1" height="22"/><rect x="377" y="420" width="3" height="20"/><rect x="382" y="427" width="1" height="34"/><rect x="381" y="440" width="3" height="21"/><rect x="391" y="450" width="1" height="10"/><rect x="390" y="455" width="3" height="4"/><rect x="394" y="458" width="3" height="23"/><rect x="415" y="428" width="1" height="20"/><rect x="414" y="430" width="3" height="15"/><rect x="428" y="432" width="1" height="28"/><rect x="427" y="435" width="3" height="21"/><rect x="436" y="417" width="1" height="70"/><rect x="435" y="432" width="3" height="54"/><rect x="444" y="483" width="1" height="22"/><rect x="443" y="484" width="3" height="9"/><rect x="452" y="442" width="1" height="45"/><rect x="451" y="453" width="3" height="13"/><rect x="469" y="423" width="1" height="35"/><rect x="468" y="445" width="3" height="13"/><rect x="473" y="456" width="1" height="27"/><rect x="472" y="457" width="3" height="7"/><rect x="481" y="436" width="1" height="22"/><rect x="480" y="448" width="3" height="9"/><rect x="497" y="442" width="1" height="13"/><rect x="496" y="445" width="3" height="9"/><rect x="526" y="378" width="1" height="32"/><rect x="525" y="388" width="3" height="14"/><rect x="543" y="307" width="1" height="17"/><rect x="542" y="313" width="3" height="4"/><rect x="547" y="282" width="1" height="75"/><rect x="546" y="316" width="3" height="16"/><rect x="555" y="268" width="1" height="75"/><rect x="554" y="278" width="3" height="65"/><rect x="608" y="143" width="1" height="27"/><rect x="607" y="160" width="3" height="5"/><rect x="612" y="159" width="1" height="14"/><rect x="611" y="164" width="3" height="6"/><rect x="625" y="145" width="1" height="38"/><rect x="624" y="151" width="3" height="29"/><rect x="629" y="170" width="1" height="23"/><rect x="628" y="179" width="3" height="12"/><rect x="633" y="183" width="1" height="24"/><rect x="632" y="190" width="3" height="6"/><rect x="637" y="188" width="1" height="24"/><rect x="636" y="195" width="3" height="6"/><rect x="645" y="191" width="1" height="22"/><rect x="644" y="198" width="3" height="6"/><rect x="649" y="197" width="1" height="21"/><rect x="648" y="203" width="3" height="8"/><rect x="658" y="188" width="1" height="20"/><rect x="657" y="190" width="3" height="8"/><rect x="662" y="194" width="1" height="14"/><rect x="661" y="197" width="3" height="1"/><rect x="670" y="194" width="1" height="13"/><rect x="669" y="195" width="3" height="5"/><rect x="682" y="194" width="1" height="7"/><rect x="681" y="196" width="3" height="2"/><rect x="694" y="191" width="1" height="6"/><rect x="693" y="193" width="3" height="1"/><rect x="703" y="154" width="1" height="32"/><rect x="702" y="162" width="3" height="17"/><rect x="707" y="165" width="1" height="24"/><rect x="706" y="178" width="3" height="9"/><rect x="715" y="175" width="1" height="39"/><rect x="714" y="186" width="3" height="27"/><rect x="719" y="209" width="1" height="33"/><rect x="718" y="211" width="3" height="1"/><rect x="723" y="179" width="1" height="48"/><rect x="722" y="212" width="3" height="14"/><rect x="727" y="208" width="1" height="63"/><rect x="726" y="225" width="3" height="41"/><rect x="740" y="228" width="1" height="22"/><rect x="739" y="228" width="3" height="9"/><rect x="752" y="194" width="1" height="43"/><rect x="751" y="199" width="3" height="36"/><rect x="756" y="213" width="1" height="63"/><rect x="755" y="233" width="3" height="42"/><rect x="760" y="272" width="1" height="38"/><rect x="759" y="273" width="3" height="34"/><rect x="777" y="283" width="1" height="21"/><rect x="776" y="288" width="3" height="14"/><rect x="801" y="280" width="1" height="49"/><rect x="800" y="283" width="3" height="40"/><rect x="805" y="310" width="1" height="37"/><rect x="804" y="322" width="3" height="21"/><rect x="814" y="336" width="1" height="27"/><rect x="813" y="341" width="3" height="20"/><rect x="822" y="338" width="1" height="23"/><rect x="821" y="346" width="3" height="4"/><rect x="838" y="275" width="1" height="54"/><rect x="837" y="292" width="3" height="30"/><rect x="842" y="314" width="1" height="39"/><rect x="841" y="321" width="3" height="28"/><rect x="846" y="338" width="1" height="34"/><rect x="845" y="348" width="3" height="18"/><rect x="850" y="358" width="1" height="43"/><rect x="849" y="365" width="3" height="6"/><rect x="859" y="354" width="1" height="38"/><rect x="858" y="362" width="3" height="22"/><rect x="867" y="346" width="1" height="20"/><rect x="866" y="355" width="3" height="10"/><rect x="871" y="353" width="1" height="25"/><rect x="870" y="364" width="3" height="1"/><rect x="875" y="362" width="1" height="15"/><rect x="874" y="365" width="3" height="10"/><rect x="883" y="361" width="1" height="4"/><rect x="882" y="363" width="3" height="1"/><rect x="887" y="362" width="1" height="11"/><rect x="886" y="365" width="3" height="6"/><rect x="892" y="369" width="1" height="92"/><rect x="891" y="370" width="3" height="70"/><rect x="904" y="405" width="1" height="26"/><rect x="903" y="409" width="3" height="21"/><rect x="916" y="413" width="1" height="29"/><rect x="915" y="417" width="3" height="12"/><rect x="928" y="355" width="1" height="37"/><rect x="927" y="373" width="3" height="9"/><rect x="941" y="350" width="1" height="35"/><rect x="940" y="359" width="3" height="23"/><rect x="949" y="297" width="1" height="37"/><rect x="948" y="307" width="3" height="17"/><rect x="953" y="309" width="1" height="44"/><rect x="952" y="323" width="3" height="19"/><rect x="974" y="309" width="1" height="15"/><rect x="973" y="313" width="3" height="8"/><rect x="978" y="316" width="1" height="12"/><rect x="977" y="320" width="3" height="5"/><rect x="994" y="292" width="1" height="35"/><rect x="993" y="311" width="3" height="6"/><rect x="998" y="290" width="1" height="56"/><rect x="997" y="316" width="3" height="28"/><rect x="1002" y="334" width="1" height="29"/><rect x="1001" y="343" width="3" height="17"/><rect x="1006" y="347" width="1" height="20"/><rect x="1005" y="359" width="3" height="4"/><rect x="1019" y="336" width="1" height="38"/><rect x="1018" y="347" width="3" height="4"/><rect x="1027" y="337" width="1" height="36"/><rect x="1026" y="348" width="3" height="24"/><rect x="1048" y="320" width="1" height="78"/><rect x="1047" y="323" width="3" height="75"/><rect x="1056" y="338" width="1" height="33"/><rect x="1055" y="342" width="3" height="28"/><rect x="1060" y="359" width="1" height="32"/><rect x="1059" y="369" width="3" height="12"/><rect x="1076" y="354" width="1" height="41"/><rect x="1075" y="358" width="3" height="37"/><rect x="1080" y="373" width="1" height="19"/><rect x="1079" y="374" width="3" height="16"/><rect x="1101" y="317" width="1" height="21"/><rect x="1100" y="329" width="3" height="8"/><rect x="1105" y="331" width="1" height="27"/><rect x="1104" y="336" width="3" height="6"/></g>
<g fill="none" stroke="#f23645" stroke-width="3" stroke-linecap="round" stroke-linejoin="round">
<path d="M1154.6 333.7 L1178.9 410.8"/>
<path d="M1160.2 401.4 L1178.9 410.8 L1188.6 392.6"/>
</g>
<path d="M1387 207 H1458.8 Q1460 207 1460 208.2 V228.8 Q1460 230 1458.8 230 H1387 Z" fill="#f23645"/>
<text x="1397.1" y="223.9" font-size="15" fill="#ffffff" stroke="#ffffff" stroke-width="0.35" textLength="56.6" lengthAdjust="spacingAndGlyphs">1.35516</text>
<path d="M1387 303 H1458.8 Q1460 303 1460 304.2 V324.8 Q1460 326 1458.8 326 H1387 Z" fill="#2962ff"/>
<text x="1397.1" y="320.0" font-size="15" fill="#ffffff" stroke="#ffffff" stroke-width="0.35" textLength="56.6" lengthAdjust="spacingAndGlyphs">1.34909</text>
<path d="M1387 326 H1458.8 Q1460 326 1460 327.2 V347.8 Q1460 349 1458.8 349 H1387 Z" fill="#089981"/>
<text x="1397.1" y="342.9" font-size="15" fill="#ffffff" stroke="#ffffff" stroke-width="0.35" textLength="56.6" lengthAdjust="spacingAndGlyphs">1.34850</text>
<path d="M1387 408 H1458.8 Q1460 408 1460 409.2 V429.8 Q1460 431 1458.8 431 H1387 Z" fill="#388e3c"/>
<text x="1397.1" y="424.7" font-size="15" fill="#ffffff" stroke="#ffffff" stroke-width="0.35" textLength="56.6" lengthAdjust="spacingAndGlyphs">1.34392</text>
<text x="1397.1" y="46.9" font-size="15.2" fill="#111111" stroke="#111111" stroke-width="0.2" textLength="56.6" lengthAdjust="spacingAndGlyphs">1.36500</text>
<text x="1397.1" y="136.4" font-size="15.2" fill="#111111" stroke="#111111" stroke-width="0.2" textLength="56.6" lengthAdjust="spacingAndGlyphs">1.36000</text>
<text x="1397.1" y="404.9" font-size="15.2" fill="#111111" stroke="#111111" stroke-width="0.2" textLength="56.6" lengthAdjust="spacingAndGlyphs">1.34500</text>
<text x="1397.1" y="494.4" font-size="15.2" fill="#111111" stroke="#111111" stroke-width="0.2" textLength="56.6" lengthAdjust="spacingAndGlyphs">1.34000</text>
<text x="1397.1" y="583.9" font-size="15.2" fill="#111111" stroke="#111111" stroke-width="0.2" textLength="56.6" lengthAdjust="spacingAndGlyphs">1.33500</text>
<text x="1397.1" y="673.4" font-size="15.2" fill="#111111" stroke="#111111" stroke-width="0.2" textLength="56.6" lengthAdjust="spacingAndGlyphs">1.33000</text>
<text x="1397.1" y="762.9" font-size="15.2" fill="#111111" stroke="#111111" stroke-width="0.2" textLength="56.6" lengthAdjust="spacingAndGlyphs">1.32500</text>
<text x="1378" y="209.9" font-size="15" font-weight="bold" fill="#f23645" text-anchor="end" textLength="105.6" lengthAdjust="spacingAndGlyphs">1st Resistance</text>
<text x="1378.5" y="318.8" font-size="15" font-weight="bold" fill="#2962ff" text-anchor="end" textLength="38.5" lengthAdjust="spacingAndGlyphs">Pivot</text>
<text x="1378.3" y="410.9" font-size="15" font-weight="bold" fill="#388e3c" text-anchor="end" textLength="85" lengthAdjust="spacingAndGlyphs">1st Support</text>
<text x="75" y="807.9" font-size="15.2" fill="#111111" stroke="#111111" stroke-width="0.2" text-anchor="middle" textLength="16.0" lengthAdjust="spacingAndGlyphs">17</text>
<text x="173" y="807.9" font-size="15.2" fill="#111111" stroke="#111111" stroke-width="0.2" text-anchor="middle" textLength="16.0" lengthAdjust="spacingAndGlyphs">20</text>
<text x="270.8" y="807.9" font-size="15.2" fill="#111111" stroke="#111111" stroke-width="0.2" text-anchor="middle" textLength="16.0" lengthAdjust="spacingAndGlyphs">21</text>
<text x="370" y="807.9" font-size="15.2" fill="#111111" stroke="#111111" stroke-width="0.2" text-anchor="middle" textLength="16.0" lengthAdjust="spacingAndGlyphs">22</text>
<text x="468.6" y="807.9" font-size="15.2" fill="#111111" stroke="#111111" stroke-width="0.2" text-anchor="middle" textLength="16.0" lengthAdjust="spacingAndGlyphs">23</text>
<text x="567.3" y="807.9" font-size="15.2" fill="#111111" stroke="#111111" stroke-width="0.2" text-anchor="middle" textLength="16.0" lengthAdjust="spacingAndGlyphs">24</text>
<text x="665.7" y="807.9" font-size="15.2" fill="#111111" stroke="#111111" stroke-width="0.2" text-anchor="middle" textLength="16.0" lengthAdjust="spacingAndGlyphs">27</text>
<text x="764.1" y="807.9" font-size="15.2" fill="#111111" stroke="#111111" stroke-width="0.2" text-anchor="middle" textLength="16.0" lengthAdjust="spacingAndGlyphs">28</text>
<text x="862.8" y="807.9" font-size="15.2" fill="#111111" stroke="#111111" stroke-width="0.2" text-anchor="middle" textLength="16.0" lengthAdjust="spacingAndGlyphs">29</text>
<text x="961.5" y="807.9" font-size="15.2" fill="#111111" stroke="#111111" stroke-width="0.2" text-anchor="middle" textLength="16.0" lengthAdjust="spacingAndGlyphs">30</text>
<text x="1158.5" y="807.9" font-size="15.2" fill="#111111" stroke="#111111" stroke-width="0.2" text-anchor="middle" textLength="8.0" lengthAdjust="spacingAndGlyphs">3</text>
<text x="1257.5" y="807.9" font-size="15.2" fill="#111111" stroke="#111111" stroke-width="0.2" text-anchor="middle" textLength="8.0" lengthAdjust="spacingAndGlyphs">4</text>
<text x="1355.2" y="807.9" font-size="15.2" fill="#111111" stroke="#111111" stroke-width="0.2" text-anchor="middle" textLength="8.0" lengthAdjust="spacingAndGlyphs">5</text>
<text x="1080.9" y="807.9" font-size="15.2" font-weight="bold" fill="#111111" text-anchor="middle" textLength="27.4" lengthAdjust="spacingAndGlyphs">Jun</text>
<rect x="14.5" y="6.5" width="31" height="20" rx="2.5" ry="2.5" fill="#fff" stroke="#d9d9d9" stroke-width="1"/>
<path d="M20.6 14.7 L24.45 18.2 L28.4 14.6" fill="none" stroke="#111" stroke-width="1.25" stroke-linecap="round" stroke-linejoin="round"/>
<text x="37.3" y="21" font-size="13" fill="#111111" text-anchor="middle" textLength="6.6" lengthAdjust="spacingAndGlyphs">3</text>
<rect x="1390.5" y="3.5" width="69" height="25" rx="4" ry="4" fill="#fff" stroke="#e6e6e6" stroke-width="1"/>
<text x="1394" y="20.1" font-size="12.3" fill="#111111" textLength="21" lengthAdjust="spacingAndGlyphs">USD</text>
<path d="M1449.9 15.3 L1452.4 17.6 L1455.1 15.2" fill="none" stroke="#111" stroke-width="1.2" stroke-linecap="round" stroke-linejoin="round"/>
<g fill="#0f0f0f">
<path d="M20 756 H32 V771 H26 V761.7 H20 Z"/>
<circle cx="37" cy="758.9" r="2.9"/>
<path d="M43.1 756 H50 L43.9 771 H37.0 Z"/>
</g>
<clipPath id="c1150"><circle cx="1150.1" cy="772.0" r="8.1"/></clipPath>
<circle cx="1150.1" cy="772.0" r="10.3" fill="#fff" stroke="#f23645" stroke-width="1.6"/>
<g clip-path="url(#c1150)">
<rect x="1141.1" y="763.0" width="18" height="18" fill="#fff"/>
<rect x="1151.8" y="763.8" width="8" height="3.3" fill="#ef4a45"/>
<rect x="1151.8" y="769.8" width="8" height="3.4" fill="#ef4a45"/>
<rect x="1141.1" y="776.3" width="18" height="4" fill="#ef4a45"/>
<rect x="1141.1" y="763.8" width="10.7" height="10.3" fill="#2f8be6"/>
<rect x="1144.1" y="766.0" width="0.8" height="0.8" fill="#dbeafb"/>
<rect x="1146.5" y="766.0" width="0.8" height="0.8" fill="#dbeafb"/>
<rect x="1148.9" y="766.0" width="0.8" height="0.8" fill="#dbeafb"/>
<rect x="1144.1" y="768.4" width="0.8" height="0.8" fill="#dbeafb"/>
<rect x="1146.5" y="768.4" width="0.8" height="0.8" fill="#dbeafb"/>
<rect x="1148.9" y="768.4" width="0.8" height="0.8" fill="#dbeafb"/>
<rect x="1144.1" y="770.8" width="0.8" height="0.8" fill="#dbeafb"/>
<rect x="1146.5" y="770.8" width="0.8" height="0.8" fill="#dbeafb"/>
<rect x="1148.9" y="770.8" width="0.8" height="0.8" fill="#dbeafb"/>
</g>
<clipPath id="c1248"><circle cx="1248.9" cy="772.0" r="8.1"/></clipPath>
<circle cx="1248.9" cy="772.0" r="10.3" fill="#fff" stroke="#f23645" stroke-width="1.6"/>
<g clip-path="url(#c1248)">
<rect x="1239.9" y="763.0" width="18" height="18" fill="#fff"/>
<rect x="1250.6000000000001" y="763.8" width="8" height="3.3" fill="#ef4a45"/>
<rect x="1250.6000000000001" y="769.8" width="8" height="3.4" fill="#ef4a45"/>
<rect x="1239.9" y="776.3" width="18" height="4" fill="#ef4a45"/>
<rect x="1239.9" y="763.8" width="10.7" height="10.3" fill="#2f8be6"/>
<rect x="1242.9" y="766.0" width="0.8" height="0.8" fill="#dbeafb"/>
<rect x="1245.3" y="766.0" width="0.8" height="0.8" fill="#dbeafb"/>
<rect x="1247.7" y="766.0" width="0.8" height="0.8" fill="#dbeafb"/>
<rect x="1242.9" y="768.4" width="0.8" height="0.8" fill="#dbeafb"/>
<rect x="1245.3" y="768.4" width="0.8" height="0.8" fill="#dbeafb"/>
<rect x="1247.7" y="768.4" width="0.8" height="0.8" fill="#dbeafb"/>
<rect x="1242.9" y="770.8" width="0.8" height="0.8" fill="#dbeafb"/>
<rect x="1245.3" y="770.8" width="0.8" height="0.8" fill="#dbeafb"/>
<rect x="1247.7" y="770.8" width="0.8" height="0.8" fill="#dbeafb"/>
</g>
<clipPath id="c1347"><circle cx="1347.2" cy="772.0" r="8.1"/></clipPath>
<circle cx="1347.2" cy="772.0" r="10.3" fill="#fff" stroke="#f23645" stroke-width="1.6"/>
<g clip-path="url(#c1347)">
<rect x="1338.2" y="763.0" width="18" height="18" fill="#fff"/>
<rect x="1348.9" y="763.8" width="8" height="3.3" fill="#ef4a45"/>
<rect x="1348.9" y="769.8" width="8" height="3.4" fill="#ef4a45"/>
<rect x="1338.2" y="776.3" width="18" height="4" fill="#ef4a45"/>
<rect x="1338.2" y="763.8" width="10.7" height="10.3" fill="#2f8be6"/>
<rect x="1341.2" y="766.0" width="0.8" height="0.8" fill="#dbeafb"/>
<rect x="1343.6" y="766.0" width="0.8" height="0.8" fill="#dbeafb"/>
<rect x="1346.0" y="766.0" width="0.8" height="0.8" fill="#dbeafb"/>
<rect x="1341.2" y="768.4" width="0.8" height="0.8" fill="#dbeafb"/>
<rect x="1343.6" y="768.4" width="0.8" height="0.8" fill="#dbeafb"/>
<rect x="1346.0" y="768.4" width="0.8" height="0.8" fill="#dbeafb"/>
<rect x="1341.2" y="770.8" width="0.8" height="0.8" fill="#dbeafb"/>
<rect x="1343.6" y="770.8" width="0.8" height="0.8" fill="#dbeafb"/>
<rect x="1346.0" y="770.8" width="0.8" height="0.8" fill="#dbeafb"/>
</g>
<circle cx="1109.5" cy="772.6" r="9.7" fill="#fff" stroke="#9c27b0" stroke-width="1.5"/>
<path d="M1112.9 767.0 L1105.3 773.4 L1109.2 773.4 L1106.2 778.2 L1113.8 772.0 L1109.9 772.0 Z" fill="#9c27b0" stroke="#9c27b0" stroke-width="0.4" stroke-linejoin="round"/>
<path d="M1418.4 803.5 L1421.9 797.5 H1429.1 L1432.6 803.5 L1429.1 809.4 H1421.9 Z" fill="none" stroke="#111111" stroke-width="1.1" stroke-linejoin="round"/>
<circle cx="1425.5" cy="803.5" r="2" fill="none" stroke="#111111" stroke-width="1.1"/>
</svg></body></html>
